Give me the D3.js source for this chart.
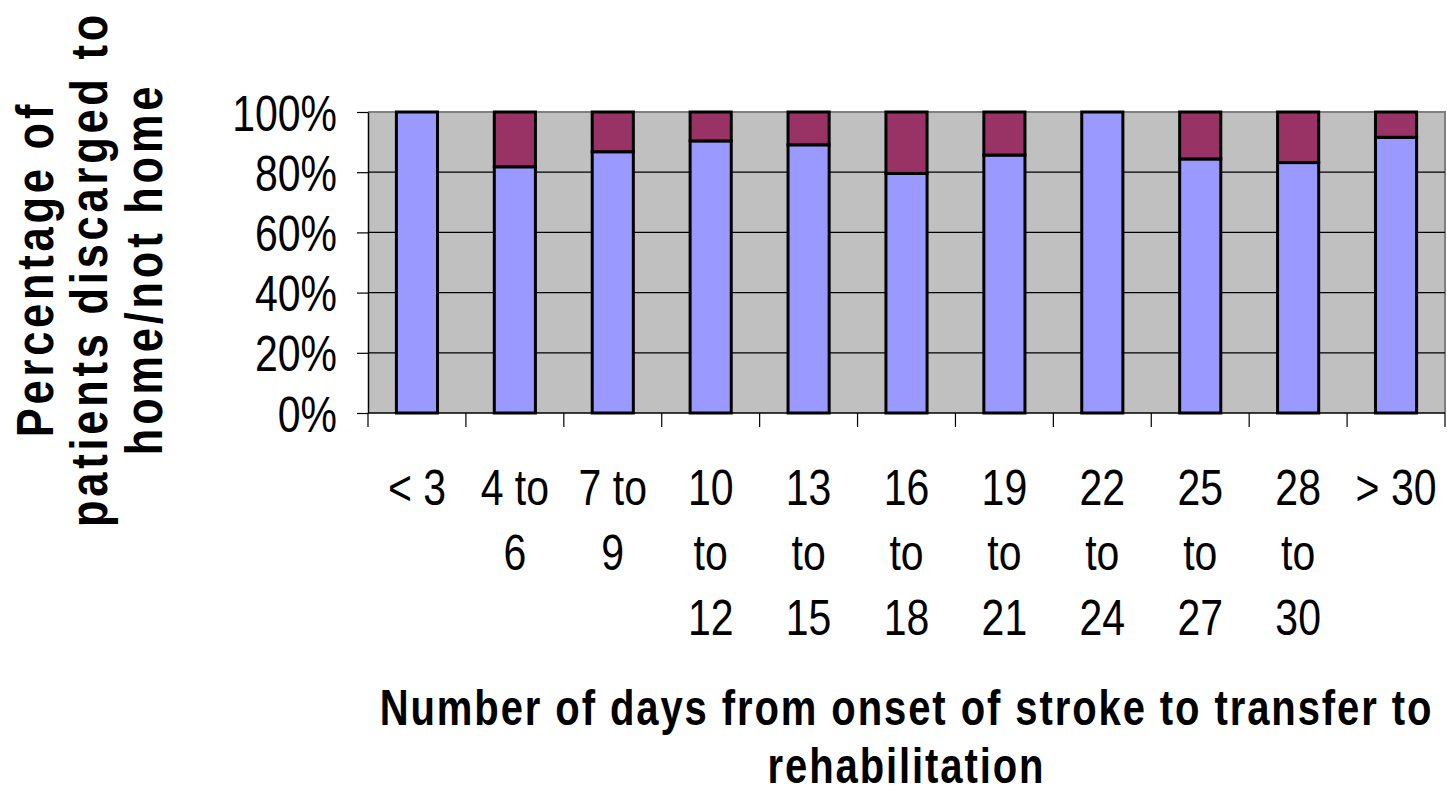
<!DOCTYPE html>
<html>
<head>
<meta charset="utf-8">
<title>days to rehabilitation</title>
<script src="https://d3js.org/d3.v7.min.js"></script>
<style>
  body { margin: 0; background: #fff; }
  text { font-family: "Liberation Sans", Arial, sans-serif; fill: #000; }
</style>
</head>
<body>
<svg width="1447" height="794"></svg>
<script>
// data
var categories = ["< 3", "4 to 6", "7 to 9", "10 to 12", "13 to 15", "16 to 18",
                  "19 to 21", "22 to 24", "25 to 27", "28 to 30", "> 30"];
var home    = [100, 81.8, 86.8, 90.4, 89.1, 79.6, 85.7, 100, 84.4, 83.2, 91.6];
var notHome = [0, 18.2, 13.2, 9.6, 10.9, 20.4, 14.3, 0, 15.6, 16.8, 8.4];
var yTicks  = [0, 20, 40, 60, 80, 100];
var yTitle  = ["Percentage of", "patients discarged to", "home/not home"];
var xTitle  = ["Number of days from onset of stroke to transfer to", "rehabilitation"];

var svg = d3.select("svg");
var plotL = 368, plotR = 1445, plotT = 112, plotB = 413;
var narrow = 0.82;

var rows = categories.map(function(c, i) {
  return {cat: c, home: home[i], notHome: notHome[i]};
});
var stack = d3.stack().keys(["home", "notHome"])(rows);
var colors = {home: "#9999ff", notHome: "#993366"};

var x = d3.scaleBand().domain(categories).range([plotL, plotR])
  .paddingInner(0.58).paddingOuter(0.29);
var y = d3.scaleLinear().domain([0, 100]).range([plotB, plotT]);

// plot area
svg.append("rect")
  .attr("x", plotL).attr("y", plotT)
  .attr("width", plotR - plotL).attr("height", plotB - plotT)
  .attr("fill", "#c0c0c0");
svg.append("path")
  .attr("d", "M" + plotL + "," + plotT + "H" + plotR + "V" + plotB)
  .attr("fill", "none").attr("stroke", "#808080").attr("stroke-width", 2);

// gridlines
svg.append("g").selectAll("line")
  .data(yTicks.filter(function(d) { return d > 0 && d < 100; }))
  .enter().append("line")
  .attr("x1", plotL).attr("x2", plotR)
  .attr("y1", function(d) { return y(d); })
  .attr("y2", function(d) { return y(d); })
  .attr("stroke", "#000").attr("stroke-width", 1.2);

// bars
svg.append("g").selectAll("g")
  .data(stack).enter().append("g")
  .attr("fill", function(s) { return colors[s.key]; })
  .selectAll("rect")
  .data(function(s) { return s.filter(function(d) { return d[1] - d[0] > 0; }); })
  .enter().append("rect")
  .attr("x", function(d) { return x(d.data.cat); })
  .attr("width", x.bandwidth())
  .attr("y", function(d) { return y(d[1]); })
  .attr("height", function(d) { return y(d[0]) - y(d[1]); })
  .attr("stroke", "#000").attr("stroke-width", 3);

// y axis
var yAxis = svg.append("g")
  .attr("transform", "translate(" + plotL + ",0)")
  .call(d3.axisLeft(y).tickValues(yTicks).tickSize(11).tickSizeOuter(0)
    .tickFormat(function(d) { return d + "%"; }));
yAxis.select(".domain").attr("stroke", "#000").attr("stroke-width", 1.5);
yAxis.selectAll(".tick line").attr("stroke", "#000").attr("stroke-width", 1.2);
yAxis.selectAll(".tick text")
  .attr("font-size", 50)
  .attr("font-family", "Liberation Sans, Arial, sans-serif")
  .attr("transform", "scale(" + narrow + ",1)")
  .attr("x", -31 / narrow)
  .attr("dy", "0.36em");

// x axis line and category boundary ticks
svg.append("line")
  .attr("x1", plotL).attr("x2", plotR).attr("y1", plotB).attr("y2", plotB)
  .attr("stroke", "#000").attr("stroke-width", 1.5);
svg.append("g").selectAll("line")
  .data(d3.range(categories.length + 1)).enter().append("line")
  .attr("x1", function(i) { return plotL + i * x.step(); })
  .attr("x2", function(i) { return plotL + i * x.step(); })
  .attr("y1", plotB).attr("y2", plotB + 14)
  .attr("stroke", "#000").attr("stroke-width", 1.2);

// x tick labels, wrapped to the band width
var wrapWidth = x.step() * 0.88;
var xLabels = svg.append("g").selectAll("g")
  .data(categories).enter().append("g")
  .attr("transform", function(d) {
    return "translate(" + (x(d) + x.bandwidth() / 2) + "," + (plotB + 92) + ") scale(" + narrow + ",1)";
  });
xLabels.each(function(label) {
  var g = d3.select(this);
  var words = label.split(" ");
  var lines = [], line = [];
  var probe = g.append("text").attr("font-size", 50);
  words.forEach(function(w) {
    var test = line.concat([w]).join(" ");
    probe.text(test);
    if (line.length && probe.node().getComputedTextLength() * narrow > wrapWidth) {
      lines.push(line.join(" "));
      line = [w];
    } else {
      line.push(w);
    }
  });
  lines.push(line.join(" "));
  probe.remove();
  g.selectAll("text").data(lines).enter().append("text")
    .attr("font-size", 50)
    .attr("text-anchor", "middle")
    .attr("y", function(d, i) { return i * 65; })
    .text(function(d) { return d; });
});

// x title
var xt = svg.append("g")
  .attr("transform", "translate(" + (plotL + plotR) / 2 + ",0)");
xt.selectAll("text").data(xTitle).enter().append("text")
  .attr("font-size", 50)
  .attr("font-weight", "bold")
  .attr("letter-spacing", 2.4)
  .attr("text-anchor", "middle")
  .attr("transform", function(d, i) { return "translate(0," + (725 + i * 58) + ") scale(0.8,1)"; })
  .text(function(d) { return d; });

// y title
var yBase = [53, 107, 162];
svg.append("g").selectAll("text")
  .data(yTitle).enter().append("text")
  .attr("font-size", 51)
  .attr("font-weight", "bold")
  .attr("letter-spacing", 4.5)
  .attr("text-anchor", "middle")
  .attr("transform", function(d, i) { return "translate(" + yBase[i] + ",269) rotate(-90) scale(0.85,1)"; })
  .text(function(d) { return d; });
</script>
</body>
</html>
